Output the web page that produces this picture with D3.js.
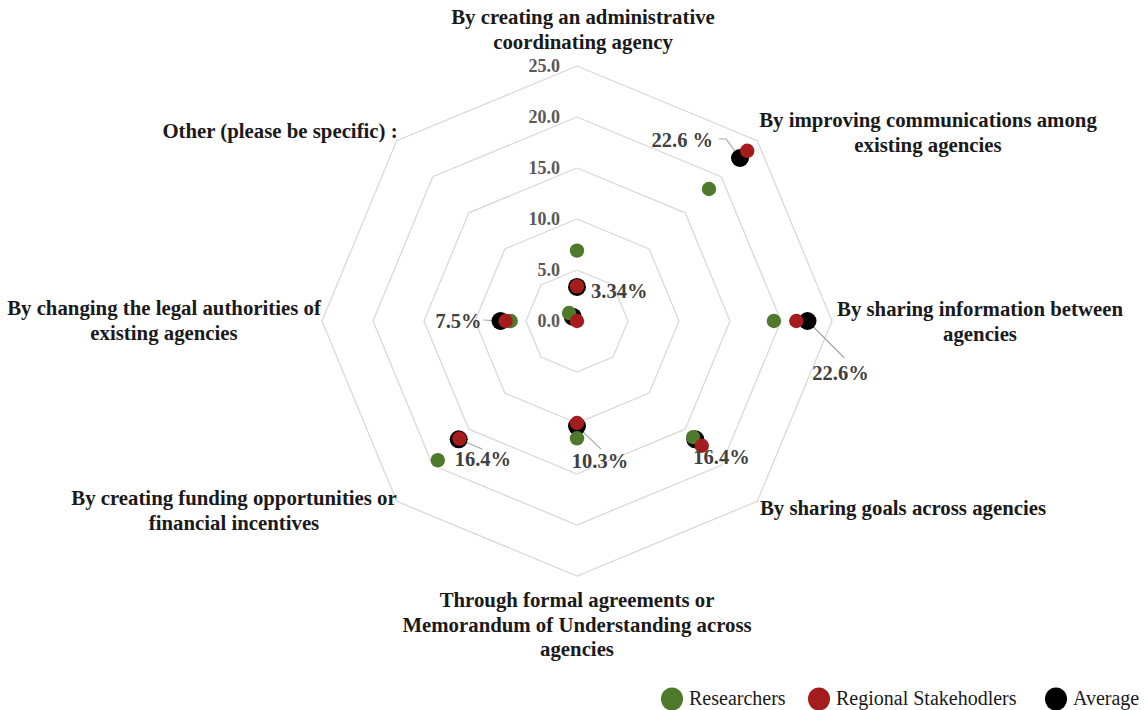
<!DOCTYPE html>
<html>
<head>
<meta charset="utf-8">
<script src="https://cdn.jsdelivr.net/npm/d3@7"></script>
<style>
  body { margin: 0; background: #fff; }
  text { font-family: "Liberation Serif", "Times New Roman", serif; }
  .cat { font-size: 20.8px; font-weight: bold; fill: #1a1a1a; }
  .tick { font-size: 18px; font-weight: bold; fill: #595959; }
  .pct { font-size: 20.5px; font-weight: bold; fill: #404040; }
  .leg { font-size: 20px; fill: #1a1a1a; }
</style>
</head>
<body>
<div class="radar"></div>
<script>

// categories, clockwise from the top
var categories = [
  ["By creating an administrative", "coordinating agency"],
  ["By improving communications among", "existing agencies"],
  ["By sharing information between", "agencies"],
  ["By sharing goals across agencies"],
  ["Through formal agreements or", "Memorandum of Understanding across", "agencies"],
  ["By creating funding opportunities or", "financial incentives"],
  ["By changing the legal authorities of", "existing agencies"],
  ["Other (please be specific) :"]
];

var researchers  = [6.9, 18.3, 19.3, 16.1, 11.5, 19.3, 6.5, 1.1];
var stakeholders = [3.4, 23.6, 21.5, 17.3, 10.0, 16.3, 7.0, 0.0];
var average      = [3.34, 22.6, 22.6, 16.4, 10.3, 16.4, 7.5, 0.6];
var avgLabels    = ["3.34%", "22.6 %", "22.6%", "16.4%", "10.3%", "16.4%", "7.5%", ""];

var tickValues = [0, 5, 10, 15, 20, 25];

var seriesNames  = ["Researchers", "Regional Stakehodlers", "Average"];
var seriesColors = ["#4f7a2b", "#a51c1c", "#000000"];

// layout
var width = 1148, height = 710;
var cx = 577, cy = 321;

// where each category label sits (x, first baseline) and how the avg label is placed
var catPos = [[583, 24], [928, 127], [980, 316], [903, 515], [577, 607], [234, 505], [164, 315], [280, 138]];
var pctPos = [
  {dx: 14, dy: 11, anchor: "start", lead: null},
  {dx: -27, dy: -11, anchor: "end", lead: [[-21, -19], [-14, -19], [0, 0]]},
  {dx: 33, dy: 59, anchor: "middle", lead: [[0, 0], [37, 37]]},
  {dx: -2, dy: 25, anchor: "start", lead: null},
  {dx: 23, dy: 42, anchor: "middle", lead: [[0, 0], [24, 23]]},
  {dx: -4, dy: 27, anchor: "start", lead: [[0, 0], [24, 10]]},
  {dx: -19, dy: 7, anchor: "end", lead: [[-17, -1], [0, 0]]},
  null
];

var rScale = d3.scaleLinear().domain([0, 25]).range([0, 255]);
var aScale = d3.scaleLinear().domain([0, categories.length]).range([0, 2 * Math.PI]);

function px(i, v) { return cx + rScale(v) * Math.sin(aScale(i)); }
function py(i, v) { return cy - rScale(v) * Math.cos(aScale(i)); }

const svg = d3.select(".radar").append("svg")
  .attr("width", width)
  .attr("height", height);

// octagon grid
var gridLine = d3.line();
svg.append("g").selectAll("path")
  .data(tickValues.slice(1))
  .enter()
  .append("path")
  .attr("d", v => gridLine(d3.range(categories.length + 1).map(i => [px(i % categories.length, v), py(i % categories.length, v)])))
  .attr("fill", "none")
  .attr("stroke", "#d9d9d9")
  .attr("stroke-width", 1.3);

// tick labels
svg.append("g").selectAll("text")
  .data(tickValues)
  .enter()
  .append("text")
  .attr("class", "tick")
  .attr("x", cx - 17)
  .attr("y", d => cy - rScale(d) + 6)
  .attr("text-anchor", "end")
  .text(d => d.toFixed(1));

// category labels
var cats = svg.append("g").selectAll("text")
  .data(categories)
  .enter()
  .append("text")
  .attr("class", "cat")
  .attr("text-anchor", "middle")
  .attr("transform", (d, i) => "translate(" + catPos[i][0] + "," + catPos[i][1] + ")");

cats.selectAll("tspan")
  .data(d => d)
  .enter()
  .append("tspan")
  .attr("x", 0)
  .attr("y", (d, j) => j * 24.5)
  .text(d => d);

// leader lines
svg.append("g").selectAll("path")
  .data(average.map((v, i) => ({v: v, i: i})).filter(d => pctPos[d.i] && pctPos[d.i].lead))
  .enter()
  .append("path")
  .attr("d", d => d3.line()(pctPos[d.i].lead.map(p => [px(d.i, d.v) + p[0], py(d.i, d.v) + p[1]])))
  .attr("fill", "none")
  .attr("stroke", "#a6a6a6")
  .attr("stroke-width", 1.2);

// points: average behind, then researchers, then stakeholders
var layers = [
  {vals: average, color: seriesColors[2], r: 9},
  {vals: researchers, color: seriesColors[0], r: 7.2},
  {vals: stakeholders, color: seriesColors[1], r: 7.2}
];

layers.forEach(function(l) {
  svg.append("g").selectAll("circle")
    .data(l.vals)
    .enter()
    .append("circle")
    .attr("cx", (d, i) => px(i, d))
    .attr("cy", (d, i) => py(i, d))
    .attr("r", l.r)
    .attr("fill", l.color);
});

// average labels
svg.append("g").selectAll("text")
  .data(average.map((v, i) => ({v: v, i: i})).filter(d => avgLabels[d.i] != ""))
  .enter()
  .append("text")
  .attr("class", "pct")
  .attr("x", d => px(d.i, d.v) + pctPos[d.i].dx)
  .attr("y", d => py(d.i, d.v) + pctPos[d.i].dy)
  .attr("text-anchor", d => pctPos[d.i].anchor)
  .text(d => avgLabels[d.i]);

// legend
var legX = [672, 819, 1056];
var legend = svg.append("g").selectAll("g")
  .data(seriesNames)
  .enter()
  .append("g")
  .attr("transform", (d, i) => "translate(" + legX[i] + ",699)");

legend.append("ellipse")
  .attr("rx", 11)
  .attr("ry", 11.5)
  .attr("fill", (d, i) => seriesColors[i]);

legend.append("text")
  .attr("class", "leg")
  .attr("x", 17)
  .attr("y", 6)
  .text(d => d);

</script>
</body>
</html>
